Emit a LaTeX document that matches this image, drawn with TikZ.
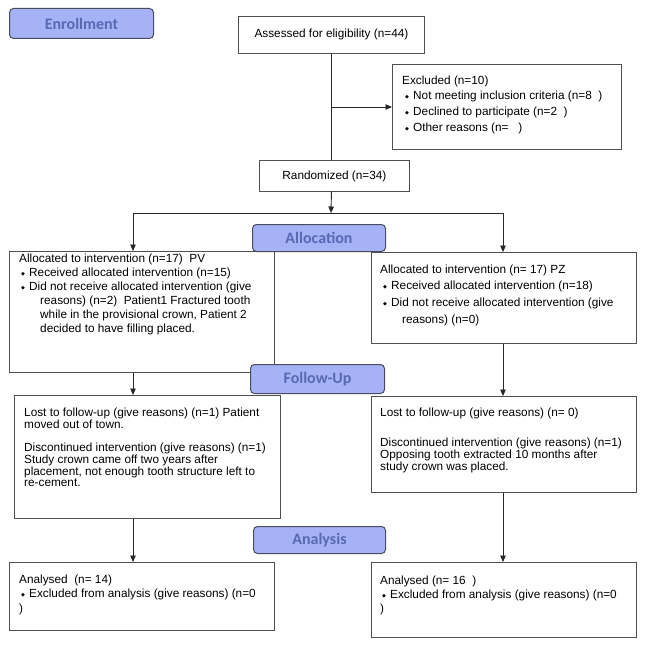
\documentclass[tikz,border=0pt]{standalone}
\usepackage{fontspec}
\setmainfont{Liberation Sans}
\newfontfamily\phasefont{Carlito}
\newfontfamily\symfont{DejaVu Sans}
\usetikzlibrary{arrows.meta}
\definecolor{phasefill}{RGB}{166,178,246}
\definecolor{phasetext}{RGB}{88,104,178}
\definecolor{phaseedge}{RGB}{75,75,95}
\definecolor{boxedge}{RGB}{80,80,80}
\definecolor{lineclr}{RGB}{40,40,40}
\newcommand{\st}{\rule{0pt}{10pt}}
\newcommand{\bul}{\makebox[8pt][l]{\raisebox{1.2pt}{\symfont\fontsize{5}{5}\selectfont ◆}}}
\begin{document}
\begin{tikzpicture}[x=1pt,y=-1pt,
  box/.style={draw=boxedge,line width=0.9pt,fill=white,anchor=north west,inner sep=0pt,font=\fontsize{11.8}{12}\selectfont},
  phase/.style={draw=phaseedge,line width=1pt,fill=phasefill,rounded corners=4pt,anchor=north west,inner sep=0pt,font=\phasefont\bfseries\fontsize{16}{16}\selectfont,text=phasetext},
  txt/.style={anchor=north west,inner sep=0pt,align=left},
  conn/.style={draw=lineclr,line width=0.9pt},
  arr/.style={conn,-{Triangle[width=5.5pt,length=6.5pt]}},
]
\useasboundingbox (0,0) rectangle (645,647);

% boxes
\node[box,minimum width=186pt,minimum height=37pt] (assess) at (238,16) {Assessed for eligibility (n=44)};
\node[box,minimum width=229pt,minimum height=85pt] (excl) at (392,64) {};
\node[box,minimum width=150pt,minimum height=31pt] (rand) at (259,160) {Randomized (n=34)};
\node[box,minimum width=265pt,minimum height=121pt] (allocL) at (9,251) {};
\node[box,minimum width=265pt,minimum height=91pt] (allocR) at (371,252) {};
\node[box,minimum width=266pt,minimum height=123pt] (fuL) at (14,395) {};
\node[box,minimum width=265pt,minimum height=96pt] (fuR) at (371,396) {};
\node[box,minimum width=265pt,minimum height=68pt] (anL) at (9,562) {};
\node[box,minimum width=265pt,minimum height=75pt] (anR) at (371,562) {};

% texts
\node[txt,font=\fontsize{11.8}{15.7}\selectfont] (exclT) at (402,74) {\st Excluded (n=10)\\
\hspace*{3pt}\bul Not meeting inclusion criteria (n=8\ \ )\\
\hspace*{3pt}\bul Declined to participate (n=2\ \ )\\
\hspace*{3pt}\bul Other reasons (n=\ \ \ )};
\node[txt,font=\fontsize{11.8}{14}\selectfont] (allocLT) at (19,252) {\st Allocated to intervention (n=17)\ \ PV\\
\hspace*{2pt}\bul Received allocated intervention (n=15)\\
\hspace*{2pt}\bul Did not receive allocated intervention (give\\
\hspace*{21pt}reasons) (n=2)\ \ Patient1 Fractured tooth\\
\hspace*{21pt}while in the provisional crown, Patient 2\\
\hspace*{21pt}decided to have filling placed.};
\node[txt,font=\fontsize{11.8}{16.7}\selectfont] (allocRT) at (380,263) {\st Allocated to intervention (n= 17) PZ\\
\hspace*{3pt}\bul Received allocated intervention (n=18)\\
\hspace*{3pt}\bul Did not receive allocated intervention (give\\
\hspace*{22pt}reasons) (n=0)};
\node[txt,font=\fontsize{11.8}{11.8}\selectfont] (fuLT) at (24,406.5) {\st Lost to follow-up (give reasons) (n=1) Patient\\
moved out of town.\\[11.2pt]
Discontinued intervention (give reasons) (n=1)\\
Study crown came off two years after\\
placement, not enough tooth structure left to\\
re-cement.};
\node[txt,font=\fontsize{11.8}{12}\selectfont] (fuRT) at (380,406.5) {\st Lost to follow-up (give reasons) (n= 0)\\[18pt]
Discontinued intervention (give reasons) (n=1)\\
Opposing tooth extracted 10 months after\\
study crown was placed.};
\node[txt,font=\fontsize{11.8}{14.5}\selectfont] (anLT) at (19,573) {\st Analysed\ \ (n= 14)\\
\hspace*{2pt}\bul Excluded from analysis (give reasons) (n=0\\
)};
\node[txt,font=\fontsize{11.8}{14}\selectfont] (anRT) at (380,574) {\st Analysed (n= 16\ \ )\\
\hspace*{2pt}\bul Excluded from analysis (give reasons) (n=0\\
)};

% connectors
\coordinate (exj) at (331,107);
\coordinate (split) at (331,213);
\coordinate (sl) at (133,213);
\coordinate (sr) at (503,213);
\draw[conn] (assess.south) -- (assess.south |- rand.north);
\draw[arr] (exj) -- (exj -| excl.west);
\draw[arr] (assess.south |- rand.south) -- (split);
\draw[conn] (sl) -- (sr);
\draw[arr] (sl) -- (sl |- allocL.north);
\draw[arr] (sr) -- (sr |- allocR.north);
\draw[arr] (sl |- allocL.south) -- (sl |- fuL.north);
\draw[arr] (sr |- allocR.south) -- (sr |- fuR.north);
\draw[arr] (sl |- fuL.south) -- (sl |- anL.north);
\draw[arr] (sr |- fuR.south) -- (sr |- anR.north);

% phase labels
\node[phase,minimum width=144pt,minimum height=30pt] (enroll) at (9,8) {Enrollment};
\node[phase,minimum width=133pt,minimum height=27pt] (allocP) at (252,224) {Allocation};
\node[phase,minimum width=134pt,minimum height=29pt] (followP) at (250,364) {Follow-Up};
\node[phase,minimum width=132pt,minimum height=27pt] (analysisP) at (253,526) {Analysis};
\end{tikzpicture}
\end{document}
